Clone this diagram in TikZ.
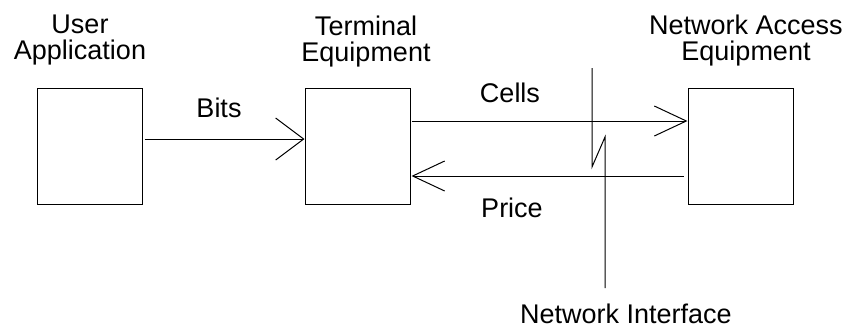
\documentclass[tikz,border=0pt]{standalone}
\usepackage{fontspec}
\setmainfont{Liberation Sans}
\usetikzlibrary{positioning,arrows.meta}

\begin{document}
\begin{tikzpicture}[x=1pt,y=-1pt,
      blk/.style={draw, line width=1pt, minimum width=105pt, minimum height=116pt,
                  inner sep=0pt},
      lbl/.style={align=center, inner sep=0pt, anchor=north,
                  font=\fontsize{27}{26}\selectfont},
      wire/.style={line width=1pt},
      sig/.style={line width=1pt,
                  -{Straight Barb[length=32pt,width=30pt,line width=1pt]}}]
    \useasboundingbox (0,0) rectangle (847,330);
    % boxes
    \node[blk] (ua) at (89.5,146)  {};
    \node[blk] (te) at (357.5,146) {};
    \node[blk] (na) at (740.5,146) {};
    % titles
    \node[lbl] (uat) at (80,15)  {User\\Application};
    \node[lbl] (tet) at (366,16) {Terminal\\Equipment};
    \node[lbl] (nat) at (746,15) {Network Access\\Equipment};
    % signals
    \draw[wire, -{Straight Barb[length=28pt,width=42pt,line width=1pt]}]
      ([xshift=2pt,yshift=7pt]ua.east) -- ([yshift=7pt]te.west);
    \draw[sig] ([xshift=1pt,yshift=25pt]te.east) -- ([yshift=25pt]na.west);
    \draw[sig] ([xshift=-4pt,yshift=-30pt]na.west) -- ([xshift=1pt,yshift=-30pt]te.east);
    \node[lbl] (bits)  at (219,98)  {Bits};
    \node[lbl] (cells) at (510,83)  {Cells};
    \node[lbl] (price) at (512,198) {Price};
    % network interface
    \node[lbl] (ni) at (626,304) {Network Interface};
    \coordinate (nit) at (592,68);
    \coordinate (nik) at (592,167);
    \coordinate (nij) at (605,137);
    \coordinate (nib) at (605,288);
    \draw[wire] (nit) -- (nik) -- (nij) -- (nib);
\end{tikzpicture}
\end{document}
